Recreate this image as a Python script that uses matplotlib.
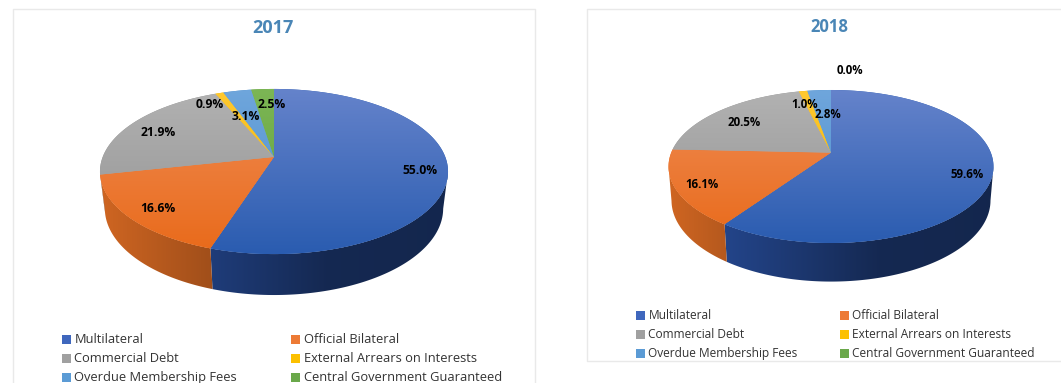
import numpy as np
import matplotlib
matplotlib.use("Agg")
import matplotlib.pyplot as plt
from matplotlib.colors import LinearSegmentedColormap, to_rgb
from matplotlib.patches import Polygon, Rectangle

plt.rcParams['font.family'] = ['Open Sans', 'DejaVu Sans']

categories = ["Multilateral", "Official Bilateral", "Commercial Debt",
              "External Arrears on Interests", "Overdue Membership Fees",
              "Central Government Guaranteed"]
values_2017 = [55.0, 16.6, 21.9, 0.9, 3.1, 2.5]
values_2018 = [59.6, 16.1, 20.5, 1.0, 2.8, 0.0]

top_light = ["#6583cb", "#ef8c55", "#b2b2b2", "#ffc930", "#6fa6dc", "#7cb655"]
top_dark = ["#2a5cb0", "#e96a1a", "#929292", "#eeb000", "#4a8ccb", "#5f9e38"]
wall_base = ["#2f5cb9", "#f57828", "#999999", "#e0a800", "#4a8ccb", "#5f9e38"]
swatch = ["#3f67bd", "#ed7a35", "#a0a0a0", "#fcc000", "#5b9bd5", "#6aa84a"]
TITLE_COLOR = "#4a86b6"
BORDER = "#e9e9e9"

W, H = 1061, 383
fig = plt.figure(figsize=(W / 100, H / 100), dpi=100, facecolor="white")
ax = fig.add_axes([0, 0, 1, 1])
ax.set_xlim(0, W)
ax.set_ylim(H, 0)
ax.axis("off")
ax.set_autoscale_on(False)


def project(theta, g, lower=False):
    """Perspective projection of a point on the pie rim; theta clockwise from top."""
    X, Y = np.sin(theta), np.cos(theta)
    if lower:
        w = 1 + g["p"] * Y + g["q"]
        return g["cx"] + g["a"] * X / w, g["cy"] + (-g["b"] * Y + g["d"]) / w
    w = 1 + g["p"] * Y
    return g["cx"] + g["a"] * X / w, g["cy"] - g["b"] * Y / w


def shade(sx_norm):
    return np.interp(sx_norm, [-1.0, -0.37, 0.3, 1.0], [0.85, 0.66, 0.44, 0.42])


def draw_pie(values, g):
    fractions = np.array(values) / sum(values)
    edges = np.concatenate([[0], np.cumsum(fractions)]) * 2 * np.pi
    _, ys = project(np.linspace(0, 2 * np.pi, 721), g)
    y_top, y_bot = ys.min(), ys.max()
    half = g["a"] * 1.03
    low_bot = y_bot + g["d"] + 12
    sx_norm = np.linspace(-1.05, 1.05, 400)

    # side wall: horizontal shading clipped to the visible rim of each slice
    for i, (t0, t1) in enumerate(zip(edges[:-1], edges[1:])):
        if t1 <= t0:
            continue
        ts = np.linspace(t0, t1, max(3, int((t1 - t0) / np.radians(0.25))))
        ts = ts[np.cos(ts) <= -g["p"]]
        if ts.size < 2:
            continue
        xa, ya = project(ts, g)
        xb, yb = project(ts[::-1], g, lower=True)
        poly = Polygon(np.column_stack([np.r_[xa, xb], np.r_[ya, yb]]), closed=True,
                       facecolor="none", edgecolor="none", transform=ax.transData, zorder=2)
        ax.add_patch(poly)
        rgb = np.outer(shade(sx_norm), np.array(to_rgb(wall_base[i])))[np.newaxis, :, :]
        im = ax.imshow(rgb, aspect="auto", zorder=2, interpolation="bilinear",
                       extent=(g["cx"] - half * 1.05, g["cx"] + half * 1.05, low_bot, y_top))
        im.set_clip_path(poly)

    # top face with a vertical gradient for each slice
    grad = np.linspace(0, 1, 256).reshape(-1, 1)
    for i, (t0, t1) in enumerate(zip(edges[:-1], edges[1:])):
        if t1 <= t0:
            continue
        n = max(3, int((t1 - t0) / np.radians(0.5)))
        xs, ys_ = project(np.linspace(t0, t1, n + 1), g)
        pts = np.column_stack([np.r_[g["cx"], xs], np.r_[g["cy"], ys_]])
        cmap = LinearSegmentedColormap.from_list("s", [top_light[i], top_dark[i]])
        poly = Polygon(pts, closed=True, facecolor=top_dark[i], edgecolor="none",
                       transform=ax.transData, zorder=3)
        ax.add_patch(poly)
        im = ax.imshow(grad, cmap=cmap, aspect="auto", zorder=3.1, vmin=0, vmax=1,
                       extent=(g["cx"] - half - 5, g["cx"] + half + 5, y_bot, y_top))
        im.set_clip_path(poly)
    ax.set_xlim(0, W)
    ax.set_ylim(H, 0)


def draw_legend(g):
    for k, name in enumerate(categories):
        row, col = k // 2, k % 2
        x = g["leg_x"][col]
        y = g["leg_y"][row]
        ax.add_patch(Rectangle((x, y - 4.5), 9.2, 9.2, facecolor=swatch[k], edgecolor="none", zorder=5))
        ax.text(x + 12.5, y + 0.8, name, fontsize=g["leg_fs"], color="#333333", va="center", ha="left", zorder=6)


g17 = dict(cx=274.0, cy=157.0, a=171.3, b=80.0, p=0.1757, q=0.0277, d=37.6,
           leg_x=(62, 291), leg_y=(339, 358, 377), leg_fs=9.3)
g18 = dict(cx=831.0, cy=152.7, a=159.8, b=74.0, p=0.180, q=0.018, d=34.0,
           leg_x=(636, 840), leg_y=(315, 334, 353), leg_fs=8.6)

# panel borders
ax.plot([12.5, 12.5, 534.5, 534.5], [H + 2, 8.5, 8.5, H + 2], color=BORDER, lw=1, zorder=1)
ax.plot([1063, 586.5, 586.5, 1063], [8.5, 8.5, 361, 361], color=BORDER, lw=1, zorder=1)

draw_pie(values_2017, g17)
draw_pie(values_2018, g18)
draw_legend(g17)
draw_legend(g18)

ax.text(273, 28, "2017", fontsize=13, fontweight="bold", color=TITLE_COLOR, ha="center", va="center")
ax.text(829.5, 27, "2018", fontsize=12, fontweight="bold", color=TITLE_COLOR, ha="center", va="center")

label_pos_2017 = [(420, 170), (158, 209), (158.5, 133), (210, 104), (246, 116), (272, 105)]
label_pos_2018 = [(967, 174), (702, 185), (744, 122), (805, 104), (828, 115), (850, 71)]
for vals, positions, fs in ((values_2017, label_pos_2017, 8.7), (values_2018, label_pos_2018, 8.3)):
    for v, (x, y) in zip(vals, positions):
        ax.text(x, y, f"{v:.1f}%", fontsize=fs, fontweight="bold", color="black",
                ha="center", va="center", zorder=7)

fig.savefig("out.png", dpi=100, facecolor="white")
